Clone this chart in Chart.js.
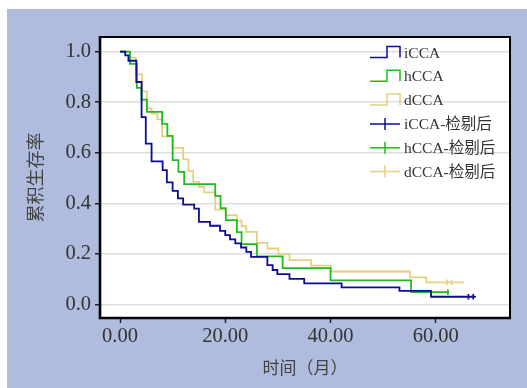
<!DOCTYPE html>
<html>
<head>
<meta charset="utf-8">
<script src="https://cdn.jsdelivr.net/npm/chart.js@4.4.1/dist/chart.umd.min.js"></script>
<style>
  html, body { margin: 0; padding: 0; background: #fff; }
</style>
</head>
<body>
<canvas id="chart" width="527" height="388"></canvas>
<script>
// time (months) and cumulative survival
const iccaTime = [0, 1.0, 1.6, 3.1, 4.1, 4.9, 6.0, 8.1, 8.9, 10.0, 11.0, 12.0, 14.1, 15.0, 17.1, 19.0, 20.0, 20.9, 21.9, 23.0, 24.0, 24.9, 28.0, 29.0, 29.9, 32.2, 35.0, 42.1, 53.1, 59.1, 67.6];
const iccaSurv = [1.0, 0.985, 0.964, 0.88, 0.741, 0.636, 0.566, 0.531, 0.483, 0.449, 0.419, 0.395, 0.379, 0.326, 0.311, 0.291, 0.274, 0.257, 0.241, 0.225, 0.208, 0.188, 0.155, 0.136, 0.12, 0.101, 0.083, 0.067, 0.053, 0.030, 0.030];
const iccaCensor = [66.2, 67.1];

const hccaTime = [0, 1.9, 3.2, 4.1, 5.1, 8.0, 9.0, 10.0, 11.1, 12.2, 18.1, 19.1, 20.1, 22.2, 23.1, 26.0, 30.9, 40.0, 55.3, 62.5];
const hccaSurv = [1.0, 0.952, 0.857, 0.810, 0.762, 0.714, 0.667, 0.571, 0.524, 0.476, 0.429, 0.381, 0.333, 0.286, 0.238, 0.190, 0.143, 0.095, 0.048, 0.048];
const hccaCensor = [62.3];

const dccaTime = [0, 1.9, 3.0, 4.2, 5.1, 6.0, 7.1, 8.0, 10.0, 12.0, 13.0, 13.9, 15.0, 16.0, 18.1, 20.1, 22.2, 23.1, 24.0, 26.0, 28.0, 30.1, 32.2, 36.3, 40.1, 55.1, 58.2, 65.4];
const dccaSurv = [1.0, 0.976, 0.910, 0.843, 0.775, 0.755, 0.732, 0.665, 0.619, 0.574, 0.528, 0.485, 0.465, 0.443, 0.375, 0.353, 0.331, 0.309, 0.287, 0.243, 0.221, 0.199, 0.175, 0.153, 0.130, 0.107, 0.087, 0.087];
const dccaCensor = [62.1, 63.0];

const groupNames = ['iCCA', 'hCCA', 'dCCA'];
const censorSuffix = '-检剔后';
const xTicks = [0, 20, 40, 60];
const yTicks = [0, 0.2, 0.4, 0.6, 0.8, 1.0];

const colors = ['#0c0c98', '#20ba20', '#e6cf80'];
const serif = '"Liberation Serif", "Times New Roman", serif';
const cjk = '"Noto Sans CJK SC", sans-serif';

// censored point sits on the curve level at that time
function survAt(times, surv, t) {
    let s = surv[0];
    for (let i = 0; i < times.length; i++) {
        if (times[i] <= t) s = surv[i];
    }
    return s;
}

const curves = [
    [iccaTime, iccaSurv, iccaCensor],
    [hccaTime, hccaSurv, hccaCensor],
    [dccaTime, dccaSurv, dccaCensor]
];

const datasets = [];
curves.forEach((c, i) => {
    datasets.push({
        label: groupNames[i],
        data: c[0].map((t, k) => ({x: t, y: c[1][k]})),
        borderColor: colors[i],
        borderWidth: 1.8,
        stepped: true,
        pointRadius: 0,
        fill: false,
        legendIcon: 'step'
    });
});
curves.forEach((c, i) => {
    datasets.push({
        label: groupNames[i] + censorSuffix,
        data: c[2].map(t => ({x: t, y: survAt(c[0], c[1], t)})),
        borderColor: colors[i],
        backgroundColor: colors[i],
        showLine: false,
        pointStyle: 'line',
        rotation: 90,
        pointRadius: 2.8,
        pointBorderWidth: 1.6,
        legendIcon: 'censor'
    });
});

const panelPlugin = {
    id: 'panel',
    beforeDraw(chart) {
        const {ctx, chartArea: a} = chart;
        ctx.save();
        ctx.fillStyle = '#ffffff';
        ctx.fillRect(0, 0, chart.width, chart.height);
        ctx.fillStyle = '#afbcde';
        ctx.fillRect(7, 9, chart.width - 7, chart.height - 9);
        ctx.fillStyle = '#ffffff';
        ctx.fillRect(a.left, a.top, a.right - a.left, a.bottom - a.top);
        ctx.restore();
    },
    afterDraw(chart) {
        const {ctx, chartArea: a} = chart;
        ctx.save();
        // frame
        ctx.strokeStyle = '#000';
        ctx.lineWidth = 2;
        ctx.beginPath();
        ctx.moveTo(a.left, a.top);
        ctx.lineTo(a.right, a.top);
        ctx.lineTo(a.right, a.bottom);
        ctx.stroke();
        ctx.lineWidth = 2.6;
        ctx.beginPath();
        ctx.moveTo(a.left, a.top - 1);
        ctx.lineTo(a.left, a.bottom);
        ctx.lineTo(a.right + 1, a.bottom);
        ctx.stroke();

        // legend
        const x0 = 370, textX = 404;
        ctx.font = '15.5px ' + serif + ', ' + cjk;
        ctx.textBaseline = 'middle';
        ctx.textAlign = 'left';
        chart.data.datasets.forEach((ds, i) => {
            const y = 52.5 + i * 23.8;
            ctx.strokeStyle = ds.borderColor;
            ctx.lineWidth = 1.5;
            ctx.beginPath();
            if (ds.legendIcon === 'step') {
                ctx.moveTo(x0, y + 5);
                ctx.lineTo(x0 + 17, y + 5);
                ctx.lineTo(x0 + 17, y - 6);
                ctx.lineTo(x0 + 30, y - 6);
                ctx.lineTo(x0 + 30, y + 5);
            } else {
                ctx.moveTo(x0, y);
                ctx.lineTo(x0 + 30, y);
                ctx.moveTo(x0 + 15, y - 6);
                ctx.lineTo(x0 + 15, y + 6);
            }
            ctx.stroke();
            ctx.fillStyle = '#333';
            ctx.fillText(ds.label, textX, y + 1);
        });
        ctx.restore();
    }
};

const ctx = document.getElementById('chart').getContext('2d');
new Chart(ctx, {
    type: 'line',
    data: {datasets: datasets},
    options: {
        responsive: false,
        devicePixelRatio: 1,
        animation: false,
        layout: {padding: {top: 37, right: 17, left: 0, bottom: 0}},
        plugins: {legend: {display: false}, tooltip: {enabled: false}},
        scales: {
            x: {
                type: 'linear',
                min: -3.8,
                max: 74.1,
                afterBuildTicks: s => { s.ticks = xTicks.map(v => ({value: v})); },
                afterFit: s => { s.height = 70; },
                grid: {drawOnChartArea: false, tickLength: 5, tickColor: '#222', tickWidth: 1.5},
                border: {display: false},
                ticks: {
                    color: '#333',
                    padding: 1,
                    font: {family: serif, size: 20.5},
                    callback: v => v.toFixed(2)
                },
                title: {
                    display: true,
                    text: '时间（月）',
                    color: '#444',
                    font: {family: cjk, size: 17},
                    padding: {top: 0, bottom: 10}
                }
            },
            y: {
                min: -0.054,
                max: 1.058,
                afterBuildTicks: s => { s.ticks = yTicks.map(v => ({value: v})); },
                afterFit: s => { s.width = 100; },
                grid: {color: '#dddddd', lineWidth: 1.5, tickLength: 5, tickColor: '#222', tickWidth: 1.5},
                border: {display: false},
                ticks: {
                    color: '#333',
                    padding: 4,
                    font: {family: serif, size: 20.5},
                    callback: v => v.toFixed(1)
                },
                title: {
                    display: true,
                    text: '累积生存率',
                    color: '#444',
                    font: {family: cjk, size: 18},
                    padding: {top: 24, bottom: 0}
                }
            }
        }
    },
    plugins: [panelPlugin]
});
</script>
</body>
</html>
